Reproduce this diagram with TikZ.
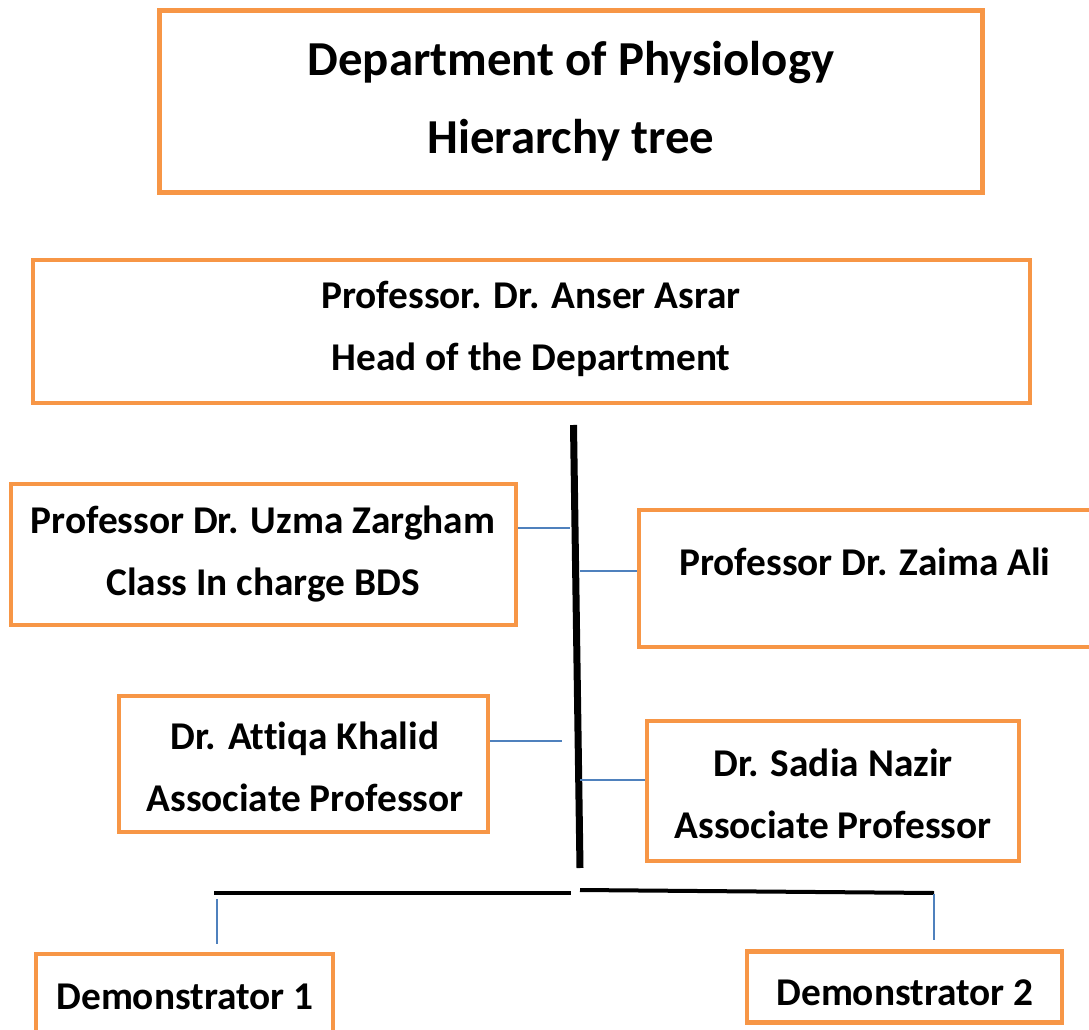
\documentclass[tikz,border=0pt]{standalone}
\usepackage{fontspec}
\setmainfont{Carlito}[Ligatures=CommonOff]
\definecolor{orangec}{HTML}{F79646}
\definecolor{bluec}{HTML}{4F81BD}
\begin{document}
\begin{tikzpicture}[x=0.75pt,y=-0.75pt,
  box/.style={draw=orangec,line width=3.6pt,fill=white,inner sep=0pt,rectangle},
  txt/.style={align=center,font=\bfseries\fontsize{29.5}{46.5}\selectfont,inner sep=0pt},
  ttl/.style={align=center,font=\bfseries\fontsize{36.6}{58.5}\selectfont,inner sep=0pt},
  spine/.style={line width=5.25pt,black},
  hline/.style={line width=3pt,black},
  bl/.style={line width=1.5pt,bluec}]
\useasboundingbox (0,0) rectangle (1089,1030);
\clip (0,0) rectangle (1089,1030);
% boxes
\node[box,minimum width=617pt,minimum height=136pt] (title) at (571,101.5) {};
\node[box,minimum width=747.75pt,minimum height=107.25pt] (head) at (531.5,331.5) {};
\node[box,minimum width=378.75pt,minimum height=105.75pt] (uzma) at (263.5,554.5) {};
\node[box,minimum width=345.75pt,minimum height=102.75pt] (zaima) at (869.5,578.5) {};
\node[box,minimum width=276.75pt,minimum height=102pt] (attiqa) at (303.5,764) {};
\node[box,minimum width=279pt,minimum height=105pt] (sadia) at (833,791) {};
\node[box,minimum width=222.75pt,minimum height=79.5pt] (demo1) at (184.5,1007) {};
\node[box,minimum width=236.25pt,minimum height=53.25pt] (demo2) at (904.5,987) {};
% texts
\node[ttl] (t-title) at (571,101) {Department of Physiology\\Hierarchy tree};
\node[txt] (t-head) at (531,329) {Professor. Dr. Anser Asrar\\Head of the Department};
\node[txt] (t-uzma) at (263,554) {Professor Dr. Uzma Zargham\\Class In charge BDS};
\node[txt] (t-zaima) at (865,562) {Professor Dr. Zaima Ali};
\node[txt] (t-attiqa) at (305,766.5) {Dr. Attiqa Khalid\\Associate Professor};
\node[txt] (t-sadia) at (833,794) {Dr. Sadia Nazir\\Associate Professor};
\node[txt] (t-demo1) at (185,997) {Demonstrator 1};
\node[txt] (t-demo2) at (905,993) {Demonstrator 2};
% spine
\coordinate (stop) at (573.5,425);
\coordinate (sbot) at (580,868);
\draw[spine] (stop) -- (sbot);
% blue branches
\coordinate (j1) at (570,528);
\coordinate (j2) at (580,571);
\coordinate (j3) at (562,741);
\coordinate (j4) at (580,780);
\draw[bl] (j1 -| uzma.east) -- (j1);
\draw[bl] (j2) -- (j2 -| zaima.west);
\draw[bl] (j3 -| attiqa.east) -- (j3);
\draw[bl] (j4) -- (j4 -| sadia.west);
% bottom horizontals
\coordinate (hl1) at (214,893);
\coordinate (hl2) at (571,893);
\coordinate (hr1) at (580,890);
\coordinate (hr2) at (934,893);
\draw[hline] (hl1) -- (hl2);
\draw[hline] (hr1) -- (hr2);
\coordinate (d1a) at (217,899);
\coordinate (d1b) at (217,944);
\coordinate (d2a) at (934,894);
\coordinate (d2b) at (934,940);
\draw[bl] (d1a) -- (d1b);
\draw[bl] (d2a) -- (d2b);
\end{tikzpicture}
\end{document}
